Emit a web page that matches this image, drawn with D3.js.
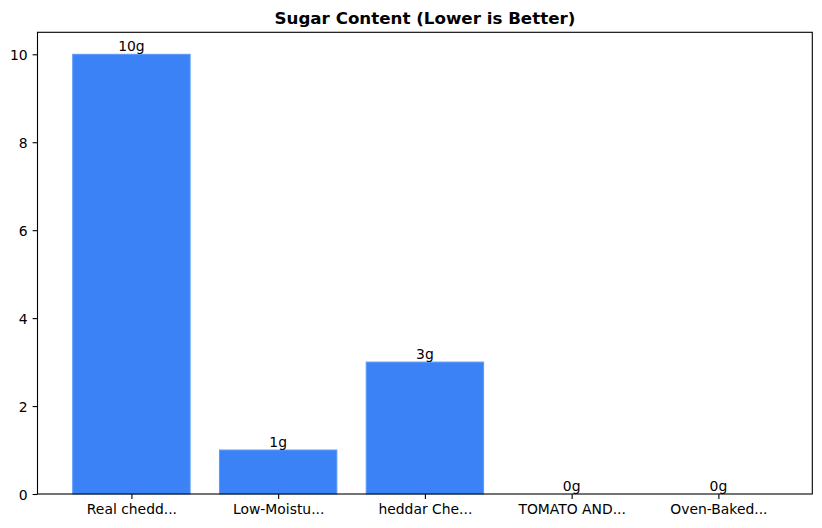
<!DOCTYPE html>
<html><head><meta charset="utf-8">
<script src="https://cdn.jsdelivr.net/npm/d3@7"></script>
<style>body{margin:0;background:#fff}svg{display:block;font-family:"DejaVu Sans",sans-serif}</style>
</head><body><svg id="c" width="822" height="528"></svg>
<script>
const categories = ["Real chedd...", "Low-Moistu...", "heddar Che...", "TOMATO AND...", "Oven-Baked..."];
const sugar = [10, 1, 3, 0, 0];
const barLabels = ["10g", "1g", "3g", "0g", "0g"];
const yTicks = [0, 2, 4, 6, 8, 10];
const title = "Sugar Content (Lower is Better)";

const svg = d3.select("#c");
const L = 37.5, R = 812.3, T = 32.3, B = 494;
const x = d3.scaleLinear().domain([-0.64, 4.64]).range([L, R]);
const y = d3.scaleLinear().domain([0, 10.5]).range([B, T]);
const bw = 0.8;

svg.append("g").selectAll("rect").data(sugar).join("rect")
  .attr("x", (d, i) => x(i - bw / 2))
  .attr("width", (d, i) => x(i + bw / 2) - x(i - bw / 2))
  .attr("y", d => y(d))
  .attr("height", d => y(0) - y(d))
  .attr("fill", "#3b82f6")
  .attr("stroke", "#5c99f8")
  .attr("stroke-width", 1);

svg.append("g").selectAll("text").data(sugar).join("text")
  .attr("x", (d, i) => x(i))
  .attr("y", d => y(d) - 3.5)
  .attr("text-anchor", "middle")
  .attr("font-size", "13.9px")
  .attr("fill", "#000")
  .text((d, i) => barLabels[i]);

// frame
svg.append("rect").attr("x", L).attr("y", T).attr("width", R - L).attr("height", B - T)
  .attr("fill", "none").attr("stroke", "#000").attr("stroke-width", 1.1);

// y axis
const yAxis = svg.append("g").attr("transform", `translate(${L},0)`)
  .call(d3.axisLeft(y).tickValues(yTicks).tickSize(4.9).tickPadding(4.9).tickFormat(d3.format("d")));
yAxis.select(".domain").remove();
yAxis.selectAll(".tick line").attr("stroke", "#000").attr("stroke-width", 1.1);
yAxis.selectAll(".tick text").attr("font-size", "13.9px").attr("fill", "#000")
  .attr("font-family", "DejaVu Sans").attr("dy", "0.36em");

// x axis
const xAxis = svg.append("g").attr("transform", `translate(0,${B})`)
  .call(d3.axisBottom(x).tickValues(d3.range(categories.length)).tickSize(4.9).tickPadding(4.9)
    .tickFormat(i => categories[i]));
xAxis.select(".domain").remove();
xAxis.selectAll(".tick line").attr("stroke", "#000").attr("stroke-width", 1.1);
xAxis.selectAll(".tick text").attr("font-size", "13.9px").attr("fill", "#000")
  .attr("font-family", "DejaVu Sans").attr("dy", "0.76em");

svg.append("text").attr("x", (L + R) / 2).attr("y", 24)
  .attr("text-anchor", "middle").attr("font-weight", "bold").attr("font-size", "16.7px")
  .text(title);
</script></body></html>
